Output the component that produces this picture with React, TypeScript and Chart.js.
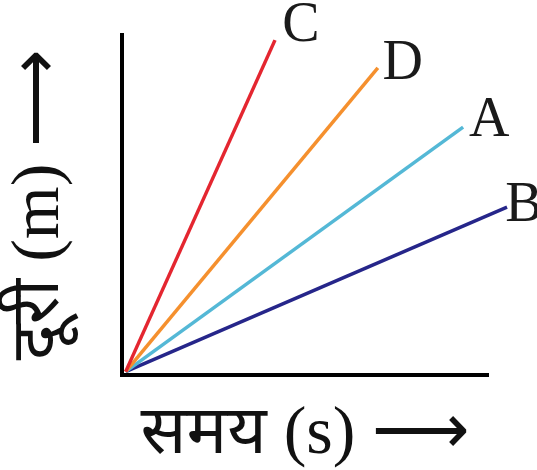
import React, { useEffect, useRef } from "react";
import { Chart, registerables } from "chart.js";

Chart.register(...registerables);

// Data
const seriesNames = ["C", "D", "A", "B"];
const startX = [0.1, 0.1, 0.1, 0.1];
const startY = [0.1, 0.1, 0.1, 0.1];
const endX = [4.18, 6.99, 9.32, 10.52];
const endY = [9.85, 9.03, 7.29, 4.94];
const xTitle = "समय (s) ⟶";
const yTitle = "दूरी (m) ⟶";

// Styles
const colors = ["#e42630", "#f5902e", "#54b8d6", "#26268a"];
const labelOffsets = [
  [26, -16],
  [25, -6],
  [26, -8],
  [17, -3],
];

const endLabelPlugin = {
  id: "endLabels",
  afterDatasetsDraw(chart: any) {
    const ctx = chart.ctx;
    ctx.save();
    ctx.font = '56px "Liberation Serif", serif';
    ctx.fillStyle = "#1a1a1a";
    ctx.textAlign = "center";
    ctx.textBaseline = "middle";
    chart.data.datasets.forEach((ds: any, i: number) => {
      const meta = chart.getDatasetMeta(i);
      const pts = meta.data;
      const last = pts[pts.length - 1];
      const [dx, dy] = labelOffsets[i];
      ctx.fillText(ds.label, last.x + dx, last.y + dy + 2);
    });
    ctx.restore();
  },
};

export default function App() {
  const ref = useRef<HTMLCanvasElement | null>(null);
  useEffect(() => {
    document.body.style.margin = "0";
    const datasets = seriesNames.map((name, i) => ({
      label: name,
      data: [
        { x: startX[i], y: startY[i] },
        { x: endX[i], y: endY[i] },
      ],
      borderColor: colors[i],
      backgroundColor: colors[i],
      borderWidth: 3.5,
      pointRadius: 0,
      clip: false as any,
    }));
    const titleFont = { family: '"Liberation Serif", "Noto Sans", serif', size: 68, lineHeight: 1 };
    const chart = new Chart(ref.current as HTMLCanvasElement, {
      type: "line",
      data: { datasets },
      options: {
        animation: false,
        responsive: false,
        maintainAspectRatio: false,
        layout: { padding: { top: 35, right: 49, left: 0, bottom: 0 } },
        plugins: { legend: { display: false }, tooltip: { enabled: false } },
        scales: {
          x: {
            type: "linear",
            min: 0,
            max: 10,
            grid: { display: false },
            ticks: { display: false },
            border: { display: true, color: "#000", width: 4 },
            title: {
              display: true,
              text: xTitle,
              color: "#111",
              font: titleFont,
              padding: { top: 0, bottom: 1 },
            },
            afterFit: (scale: any) => {
              scale.height = 95;
            },
          },
          y: {
            type: "linear",
            min: 0,
            max: 10,
            grid: { display: false },
            ticks: { display: false },
            border: { display: true, color: "#000", width: 4 },
            title: {
              display: true,
              text: yTitle,
              color: "#111",
              font: titleFont,
              padding: { top: 6, bottom: 0 },
            },
            afterFit: (scale: any) => {
              scale.width = 122;
            },
          },
        },
      },
      plugins: [endLabelPlugin],
    });
    return () => chart.destroy();
  }, []);
  return (
    <div style={{ position: "absolute", left: 0, top: 0, width: 537, height: 470 }}>
      <canvas ref={ref} width={537} height={470} style={{ width: 537, height: 470 }} />
    </div>
  );
}
